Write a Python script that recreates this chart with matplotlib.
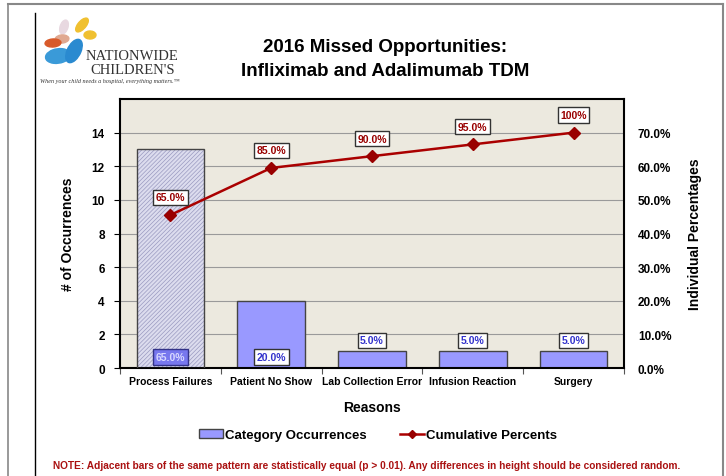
import matplotlib
matplotlib.use("Agg")
import matplotlib.pyplot as plt
from matplotlib.patches import Ellipse, Rectangle
from matplotlib.lines import Line2D
import numpy as np

plt.rcParams['font.family'] = ['Liberation Sans', 'DejaVu Sans']
plt.rcParams['hatch.linewidth'] = 0.5

categories = ["Process Failures", "Patient No Show", "Lab Collection Error", "Infusion Reaction", "Surgery"]
occurrences = [13, 4, 1, 1, 1]
individual_pct = [65.0, 20.0, 5.0, 5.0, 5.0]
cumulative_pct = [65.0, 85.0, 90.0, 95.0, 100.0]
cum_labels = ["65.0%", "85.0%", "90.0%", "95.0%", "100%"]
left_ticks = [0, 2, 4, 6, 8, 10, 12, 14]
right_tick_labels = ["0.0%", "10.0%", "20.0%", "30.0%", "40.0%", "50.0%", "60.0%", "70.0%"]

W, H = 726, 477
fig = plt.figure(figsize=(W / 100, H / 100), dpi=100)
fig.patch.set_facecolor("white")

def fx(px):
    return px / W

def fy(py):
    return 1 - py / H

# outer frame
fig.add_artist(Line2D([fx(8), fx(723)], [fy(5), fy(5)], color="#888888", lw=1.5))
fig.add_artist(Line2D([fx(8), fx(8)], [fy(5), fy(477)], color="#888888", lw=1.2))
fig.add_artist(Line2D([fx(723), fx(723)], [fy(5), fy(477)], color="#888888", lw=1.5))
fig.add_artist(Line2D([fx(35), fx(35)], [fy(14), fy(477)], color="black", lw=1.0))

# logo (approximation)
logo_shapes = [
    (64, 28, 8, 14, -10, "#e8d8e0"),
    (62, 40, 14, 8, 20, "#e0a890"),
    (53, 44, 16, 8, 10, "#d85a2a"),
    (82, 26, 9, 15, -25, "#f0c030"),
    (90, 36, 12, 8, 10, "#f0c030"),
    (58, 57, 26, 14, 30, "#3a9ad8"),
    (74, 52, 14, 24, -15, "#2a8ad0"),
]
for (cx, cy, w, h, ang, col) in logo_shapes:
    fig.add_artist(Ellipse((fx(cx), fy(cy)), w / W, h / H, angle=ang, color=col,
                           transform=fig.transFigure))
fig.text(fx(86), fy(56), "NATIONWIDE", family="Liberation Serif", fontsize=10.5,
         color="#333333", ha="left", va="center")
fig.text(fx(90), fy(70), "CHILDREN'S", family="Liberation Serif", fontsize=10.5,
         color="#333333", ha="left", va="center")
fig.text(fx(40), fy(81), "When your child needs a hospital, everything matters.\u2122",
         family="Liberation Serif", style="italic", fontsize=4.4, color="#333333",
         ha="left", va="center")

# title
fig.text(fx(385), fy(47), "2016 Missed Opportunities:", fontsize=13.5, fontweight="bold",
         ha="center", va="center")
fig.text(fx(385), fy(72), "Infliximab and Adalimumab TDM", fontsize=13.5, fontweight="bold",
         ha="center", va="center")

# axes
ax = fig.add_axes([fx(120), fy(369), (624 - 120) / W, (369 - 100) / H])
ax.set_facecolor("#ece9df")
x = np.arange(len(categories))
ax.set_xlim(-0.5, len(categories) - 0.5)
ax.set_ylim(0, 16)
ax.set_yticks(left_ticks)
ax.yaxis.grid(True, color="#9a9a9a", lw=0.8)
ax.set_axisbelow(True)

bar_w = 0.67
for i, (xi, v) in enumerate(zip(x, occurrences)):
    if i == 0:
        ax.bar(xi, v, bar_w, facecolor="#dcdcee", edgecolor="#9a9ac0", hatch="////////",
               lw=0, zorder=2)
        ax.bar(xi, v, bar_w, facecolor="none", edgecolor="#444444", lw=1.0, zorder=3)
    else:
        ax.bar(xi, v, bar_w, facecolor="#9999ff", edgecolor="#444444", lw=1.0, zorder=2)

# individual pct labels
for i, (xi, v, p) in enumerate(zip(x, occurrences, individual_pct)):
    txt = f"{p:.1f}%"
    if i == 0:
        ax.text(xi, 0.65, txt, ha="center", va="center", fontsize=7.5, fontweight="bold",
                color="#d8d8ff", zorder=5,
                bbox=dict(boxstyle="square,pad=0.25", fc="#7777ee", ec="#333388", lw=1))
    elif v >= 3:
        ax.text(xi, 0.65, txt, ha="center", va="center", fontsize=7.5, fontweight="bold",
                color="#3333cc", zorder=5,
                bbox=dict(boxstyle="square,pad=0.25", fc="white", ec="#333333", lw=1))
    else:
        ax.text(xi, v + 0.65, txt, ha="center", va="center", fontsize=7.5, fontweight="bold",
                color="#3333cc", zorder=5,
                bbox=dict(boxstyle="square,pad=0.25", fc="white", ec="#333333", lw=1))

# cumulative line on the same scale (100% == 14)
cum_y = [c / 100 * 14 for c in cumulative_pct]
ax.plot(x, cum_y, color="#aa0000", lw=1.8, marker="D", ms=6, mfc="#990000", mec="#990000",
        zorder=4)
for xi, yv, lab in zip(x, cum_y, cum_labels):
    ax.text(xi, yv + 1.05, lab, ha="center", va="center", fontsize=7.5, fontweight="bold",
            color="#990000", zorder=5,
            bbox=dict(boxstyle="square,pad=0.25", fc="white", ec="#333333", lw=1))

for s in ax.spines.values():
    s.set_color("black")
    s.set_linewidth(1.5)

ax.set_xticks(x)
ax.set_xticklabels(categories, fontsize=7.5, fontweight="bold")
ax.tick_params(axis="x", length=0, pad=6)
ax.set_xticks(np.arange(-0.5, len(categories), 1), minor=True)
ax.tick_params(axis="x", which="minor", length=4, width=0.8, color="#555555")
ax.tick_params(axis="y", length=4, width=0.8, labelsize=8.5, pad=7)
for t in ax.get_yticklabels():
    t.set_fontweight("bold")
ax.set_ylabel("# of Occurrences", fontsize=10, fontweight="bold", labelpad=12)
ax.set_xlabel("Reasons", fontsize=10, fontweight="bold", labelpad=10)

ax2 = ax.twinx()
ax2.set_ylim(0, 16)
ax2.set_yticks(left_ticks)
ax2.set_yticklabels(right_tick_labels, fontsize=8.5, fontweight="bold")
ax2.tick_params(axis="y", length=0, pad=10)
for s in ax2.spines.values():
    s.set_visible(False)
ax2.set_ylabel("Individual Percentages", fontsize=10, fontweight="bold", labelpad=12)

# legend
handles = [Rectangle((0, 0), 1, 1, facecolor="#9999ff", edgecolor="#444444", lw=1),
           Line2D([0], [0], color="#aa0000", lw=1.8, marker="D", ms=4, mfc="#990000",
                  mec="#990000")]
fig.legend(handles, ["Category Occurrences", "Cumulative Percents"], loc="center",
           bbox_to_anchor=(fx(378), fy(436)), ncol=2, frameon=False,
           handlelength=1.8, handletextpad=0.15, columnspacing=2.6,
           prop={"weight": "bold", "size": 9.5})

fig.text(fx(367), fy(466), "NOTE: Adjacent bars of the same pattern are statistically equal (p > 0.01). "
         "Any differences in height should be considered random.",
         fontsize=7.3, fontweight="bold", color="#aa1111", ha="center", va="center")

fig.savefig("out.png", dpi=100)
